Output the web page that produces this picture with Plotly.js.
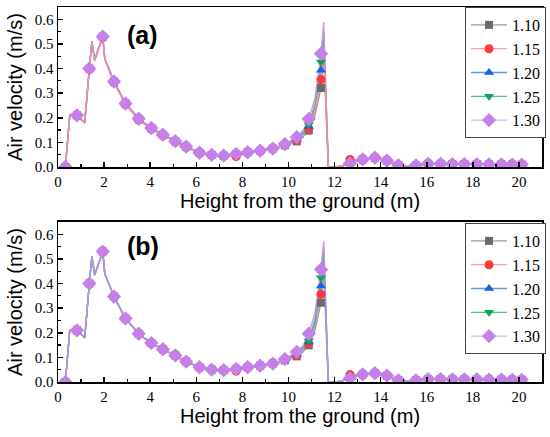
<!DOCTYPE html>
<html>
<head>
<meta charset="utf-8">
<script src="https://cdn.plot.ly/plotly-3.0.1.min.js"></script>
<style>html,body{margin:0;padding:0;background:#fff;}#chart{width:550px;height:437px;}</style>
</head>
<body>
<div id="chart"></div>
<script>
// Heights (m) where the curves are sampled
var heights = [0.32, 0.51, 0.82, 1.16, 1.36, 1.47, 1.59, 1.94, 2.03, 2.2,
  2.43, 2.93, 3.5, 4.05, 4.55, 5.09, 5.56, 6.14, 6.67, 7.19,
  7.73, 8.23, 8.77, 9.32, 9.84, 10.36, 10.65, 10.88, 11.15, 11.41,
  11.53, 11.73, 12.0, 12.3, 12.67, 13.22, 13.75, 14.27, 14.77, 15.15,
  15.53, 16.06, 16.6, 17.11, 17.63, 18.17, 18.7, 19.24, 19.71, 20.12];
// Heights carrying a symbol
var markerHeights = [0.32, 0.82, 1.36, 1.94, 2.43, 2.93, 3.5, 4.05, 4.55, 5.09,
  5.56, 6.14, 6.67, 7.19, 7.73, 8.23, 8.77, 9.32, 9.84, 10.36, 10.88, 11.41,
  12.67, 13.22, 13.75, 14.27, 14.77, 15.53, 16.06, 16.6, 17.11, 17.63, 18.17,
  18.7, 19.24, 19.71, 20.12];

var seriesNames = ["1.10", "1.15", "1.20", "1.25", "1.30"];

// Panel (a)
var a110 = [0.0, 0.21, 0.21, 0.18, 0.40, 0.51, 0.435, 0.53, 0.44, 0.40,
  0.347, 0.258, 0.196, 0.158, 0.131, 0.105, 0.083, 0.058, 0.049, 0.046,
  0.053, 0.06, 0.066, 0.075, 0.088, 0.104, 0.125, 0.148, 0.21, 0.321,
  0.45, 0.0, 0.0, 0.003, 0.022, 0.031, 0.038, 0.026, 0.007, 0.004,
  0.007, 0.013, 0.013, 0.012, 0.012, 0.012, 0.011, 0.011, 0.010, 0.010];
var a115 = [0.0, 0.205, 0.207, 0.177, 0.397, 0.505, 0.43, 0.525, 0.435, 0.395,
  0.342, 0.253, 0.191, 0.153, 0.127, 0.101, 0.079, 0.056, 0.048, 0.045,
  0.042, 0.059, 0.065, 0.074, 0.09, 0.108, 0.13, 0.155, 0.225, 0.355,
  0.49, 0.0, 0.0, 0.003, 0.031, 0.029, 0.038, 0.026, 0.007, 0.004,
  0.007, 0.013, 0.013, 0.012, 0.012, 0.012, 0.011, 0.011, 0.010, 0.010];
var a120 = [0.0, 0.21, 0.21, 0.18, 0.40, 0.51, 0.435, 0.53, 0.44, 0.40,
  0.347, 0.258, 0.196, 0.158, 0.131, 0.105, 0.083, 0.058, 0.049, 0.046,
  0.053, 0.06, 0.066, 0.075, 0.091, 0.113, 0.137, 0.165, 0.24, 0.393,
  0.52, 0.0, 0.0, 0.003, 0.018, 0.031, 0.038, 0.026, 0.007, 0.004,
  0.007, 0.013, 0.013, 0.012, 0.012, 0.012, 0.011, 0.011, 0.010, 0.010];
var a125 = [0.0, 0.21, 0.21, 0.18, 0.40, 0.51, 0.435, 0.53, 0.44, 0.40,
  0.347, 0.258, 0.196, 0.158, 0.131, 0.105, 0.083, 0.058, 0.049, 0.046,
  0.053, 0.06, 0.066, 0.075, 0.092, 0.117, 0.142, 0.172, 0.255, 0.427,
  0.55, 0.0, 0.0, 0.003, 0.016, 0.031, 0.038, 0.026, 0.007, 0.004,
  0.007, 0.013, 0.013, 0.012, 0.012, 0.012, 0.011, 0.011, 0.010, 0.010];
var a130 = [0.0, 0.21, 0.21, 0.18, 0.40, 0.51, 0.435, 0.53, 0.44, 0.40,
  0.347, 0.258, 0.196, 0.158, 0.131, 0.105, 0.083, 0.058, 0.049, 0.046,
  0.053, 0.06, 0.066, 0.075, 0.093, 0.121, 0.15, 0.195, 0.28, 0.46,
  0.589, 0.0, 0.0, 0.003, 0.015, 0.031, 0.038, 0.026, 0.007, 0.004,
  0.007, 0.013, 0.013, 0.012, 0.012, 0.012, 0.011, 0.011, 0.010, 0.010];

// Panel (b)
var b110 = [0.0, 0.21, 0.21, 0.18, 0.40, 0.51, 0.435, 0.53, 0.44, 0.40,
  0.347, 0.258, 0.196, 0.158, 0.133, 0.108, 0.083, 0.06, 0.05, 0.048,
  0.053, 0.06, 0.066, 0.075, 0.088, 0.104, 0.125, 0.149, 0.21, 0.322,
  0.45, 0.0, 0.0, 0.003, 0.022, 0.031, 0.036, 0.026, 0.007, 0.004,
  0.007, 0.012, 0.012, 0.011, 0.011, 0.011, 0.010, 0.010, 0.009, 0.009];
var b115 = [0.0, 0.21, 0.21, 0.18, 0.40, 0.51, 0.435, 0.53, 0.44, 0.40,
  0.347, 0.258, 0.196, 0.158, 0.133, 0.108, 0.083, 0.06, 0.05, 0.048,
  0.044, 0.06, 0.066, 0.075, 0.09, 0.108, 0.13, 0.155, 0.225, 0.356,
  0.485, 0.0, 0.0, 0.003, 0.03, 0.029, 0.036, 0.026, 0.007, 0.004,
  0.007, 0.012, 0.012, 0.011, 0.011, 0.011, 0.010, 0.010, 0.009, 0.009];
var b120 = [0.0, 0.21, 0.21, 0.18, 0.40, 0.51, 0.435, 0.53, 0.44, 0.40,
  0.347, 0.258, 0.196, 0.158, 0.133, 0.108, 0.083, 0.06, 0.05, 0.048,
  0.053, 0.06, 0.066, 0.075, 0.091, 0.113, 0.137, 0.163, 0.24, 0.39,
  0.515, 0.0, 0.0, 0.003, 0.018, 0.031, 0.036, 0.026, 0.007, 0.004,
  0.007, 0.012, 0.012, 0.011, 0.011, 0.011, 0.010, 0.010, 0.009, 0.009];
var b125 = [0.0, 0.21, 0.21, 0.18, 0.40, 0.51, 0.435, 0.53, 0.44, 0.40,
  0.347, 0.258, 0.196, 0.158, 0.133, 0.108, 0.083, 0.06, 0.05, 0.048,
  0.053, 0.06, 0.066, 0.075, 0.092, 0.117, 0.142, 0.168, 0.255, 0.424,
  0.545, 0.0, 0.0, 0.003, 0.016, 0.031, 0.036, 0.026, 0.007, 0.004,
  0.007, 0.012, 0.012, 0.011, 0.011, 0.011, 0.010, 0.010, 0.009, 0.009];
var b130 = [0.0, 0.21, 0.21, 0.18, 0.40, 0.51, 0.435, 0.53, 0.44, 0.40,
  0.347, 0.258, 0.196, 0.158, 0.133, 0.108, 0.083, 0.06, 0.05, 0.048,
  0.053, 0.06, 0.066, 0.075, 0.093, 0.122, 0.15, 0.196, 0.28, 0.457,
  0.573, 0.0, 0.0, 0.003, 0.015, 0.031, 0.036, 0.026, 0.007, 0.004,
  0.007, 0.012, 0.012, 0.011, 0.011, 0.011, 0.010, 0.010, 0.009, 0.009];

var panelA = [a110, a115, a120, a125, a130];
var panelB = [b110, b115, b120, b125, b130];

var lineColors = ["#8f8f8f", "#ff8a9a", "#4f95ea", "#3cc080", "#cb8cee"];
var legendLineColors = ["#9a9a9a", "#ffa0a0", "#5a9be8", "#45c488", "#dcaef2"];
var markerColors = ["#6b6b6b", "#ff3838", "#1565e0", "#10a35c", "#c67ee8"];
var symbols = ["square", "circle", "triangle-up", "triangle-down", "diamond"];
var sizes = [8, 9, 9, 9, 11];

var traces = [];
function addPanel(panel, xa, ya, legendId, lineOrder) {
  lineOrder.forEach(function (s) {
    traces.push({
      x: heights, y: panel[s], xaxis: xa, yaxis: ya, type: "scatter", mode: "lines",
      line: {color: lineColors[s], width: 1.4}, opacity: 0.9, showlegend: false, hoverinfo: "skip"
    });
  });
  panel.forEach(function (vals, s) {
    var mx = [], my = [];
    heights.forEach(function (h, i) {
      if (markerHeights.indexOf(h) >= 0) { mx.push(h, null); my.push(vals[i], null); }
    });
    traces.push({
      x: mx, y: my, xaxis: xa, yaxis: ya, type: "scatter", mode: "lines+markers",
      name: seriesNames[s], legend: legendId, connectgaps: false,
      line: {color: legendLineColors[s], width: 1.3},
      marker: {symbol: symbols[s], size: sizes[s], color: markerColors[s], line: {width: 0}}
    });
  });
}
addPanel(panelA, "x", "y", "legend", [0, 2, 3, 4, 1]);
addPanel(panelB, "x2", "y2", "legend2", [0, 1, 2, 3, 4]);

var serif = "'Liberation Serif', 'DejaVu Serif', serif";
var sans = "'Liberation Sans', Arial, sans-serif";
var tickFont = {family: serif, size: 15, color: "#000"};
var titleFont = {family: sans, size: 20, color: "#000"};
function xAxis(anchor) {
  return {
    anchor: anchor, range: [0, 21], dtick: 2, tick0: 0, ticks: "inside", ticklen: 5, tickwidth: 1.5,
    tickcolor: "#000", showline: true, linecolor: "#000", linewidth: 1.5, mirror: true,
    showgrid: false, zeroline: false, tickfont: tickFont, automargin: false,
    minor: {dtick: 1, ticks: "inside", ticklen: 3, tickwidth: 1.2, tickcolor: "#000", showgrid: false},
    title: {text: "Height from the ground (m)", font: titleFont, standoff: 4}
  };
}
function yAxis(anchor, domain) {
  return {
    anchor: anchor, domain: domain, range: [0, 0.65], dtick: 0.1, tick0: 0, tickformat: ".1f",
    ticks: "inside", ticklen: 5, tickwidth: 1.5, tickcolor: "#000", automargin: false,
    showline: true, linecolor: "#000", linewidth: 1.5, mirror: true,
    showgrid: false, zeroline: false, tickfont: tickFont,
    minor: {dtick: 0.05, ticks: "inside", ticklen: 3, tickwidth: 1.2, tickcolor: "#000", showgrid: false},
    title: {text: "Air velocity (m/s)", font: titleFont, standoff: 6}
  };
}
var legendStyle = function (y) {
  return {
    x: 0.841, xanchor: "left", y: y, yanchor: "top", bgcolor: "#fff",
    bordercolor: "#444", borderwidth: 1, itemwidth: 36,
    font: {family: serif, size: 16, color: "#000"},
    tracegroupgap: 0
  };
};

var layout = {
  width: 550, height: 437,
  margin: {l: 58, r: 8, t: 7, b: 55, autoexpand: false},
  paper_bgcolor: "#fff", plot_bgcolor: "#fff",
  xaxis: xAxis("y"),
  yaxis: yAxis("x", [0.5733, 1]),
  xaxis2: xAxis("y2"),
  yaxis2: yAxis("x2", [0, 0.4267]),
  legend: legendStyle(1.0),
  legend2: legendStyle(0.424),
  annotations: [
    {text: "<b>(a)</b>", xref: "x domain", yref: "y domain", x: 0.174, y: 0.823,
     xanchor: "center", yanchor: "middle", showarrow: false,
     font: {family: sans, size: 25, color: "#000"}},
    {text: "<b>(b)</b>", xref: "x2 domain", yref: "y2 domain", x: 0.176, y: 0.85,
     xanchor: "center", yanchor: "middle", showarrow: false,
     font: {family: sans, size: 25, color: "#000"}}
  ],
  showlegend: true
};

Plotly.newPlot("chart", traces, layout, {displayModeBar: false, staticPlot: true});
</script>
</body>
</html>
